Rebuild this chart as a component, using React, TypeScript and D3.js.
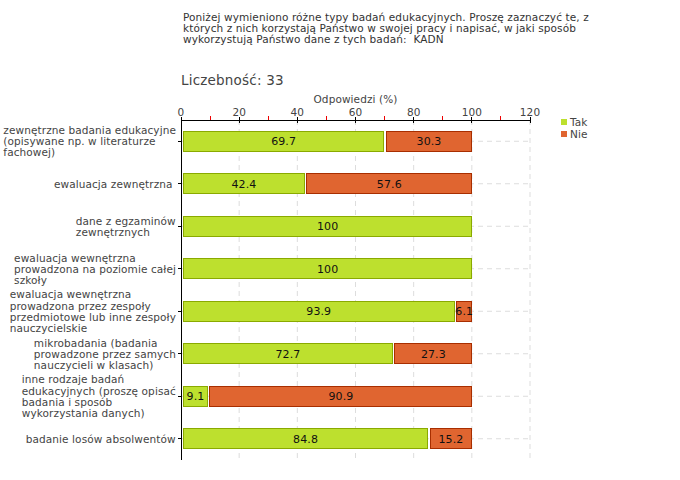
import React, { useEffect, useRef } from "react";
import * as d3 from "d3";

const titleLines = [
  "Poniżej wymieniono różne typy badań edukacyjnych. Proszę zaznaczyć te, z",
  "których z nich korzystają Państwo w swojej pracy i napisać, w jaki sposób",
  "wykorzystują Państwo dane z tych badań:  KADN",
];
const countLabel = "Liczebność: 33";
const axisTitle = "Odpowiedzi (%)";
const categories: string[][] = [
  ["zewnętrzne badania edukacyjne", "(opisywane np. w literaturze", "fachowej)"],
  ["ewaluacja zewnętrzna "],
  ["dane z egzaminów", "zewnętrznych"],
  ["ewaluacja wewnętrzna", "prowadzona na poziomie całej", "szkoły"],
  ["ewaluacja wewnętrzna", "prowadzona przez zespoły", "przedmiotowe lub inne zespoły", "nauczycielskie"],
  ["mikrobadania (badania", "prowadzone przez samych", "nauczycieli w klasach)"],
  ["inne rodzaje badań", "edukacyjnych (proszę opisać", "badania i sposób", "wykorzystania danych)"],
  ["badanie losów absolwentów"],
];
const tak = [69.7, 42.4, 100, 100, 93.9, 72.7, 9.1, 84.8];
const nie = [30.3, 57.6, 0, 0, 6.1, 27.3, 90.9, 15.2];
const seriesNames = ["Tak", "Nie"];
const majorTicks = [0, 20, 40, 60, 80, 100, 120];
const minorTicks = [10, 30, 50, 70, 90, 110];

const colors = [
  { fill: "#bde02e", stroke: "#8aaa00" },
  { fill: "#e06530", stroke: "#a82e00" },
];

const FONT = "DejaVu Sans, Verdana, sans-serif";
const FS = 10.5;
const LS = 0.1;

export default function App() {
  const ref = useRef<SVGSVGElement>(null);

  useEffect(() => {
    const svg = d3.select(ref.current);
    svg.selectAll("*").remove();
    const W = 680, H = 480;
    const left = 181, right = 530, top = 120, bottom = 460;
    const x = d3.scaleLinear().domain([0, 120]).range([left, right]);
    const y = d3.scaleBand<number>().domain(d3.range(categories.length)).range([top, bottom]);
    const barH = 20;
    const textColor = "#444";

    svg.append("rect").attr("width", W).attr("height", H).attr("fill", "#fff");

    // Title
    const t = svg.append("text").attr("font-family", FONT).attr("font-size", FS)
      .attr("letter-spacing", LS).attr("fill", "#333").style("white-space", "pre");
    titleLines.forEach((l, i) =>
      t.append("tspan").attr("x", 183).attr("y", 21 + i * 11).text(l)
    );
    svg.append("text").attr("x", 181).attr("y", 85).attr("font-family", FONT)
      .attr("font-size", 13.5).attr("letter-spacing", 0.2).attr("fill", "#444").text(countLabel);

    svg.append("text").attr("x", (left + right) / 2).attr("y", 103).attr("text-anchor", "middle")
      .attr("font-family", FONT).attr("font-size", FS).attr("letter-spacing", LS).attr("fill", textColor).text(axisTitle);

    // gridlines
    const g = svg.append("g");
    majorTicks.slice(1).forEach((v) => {
      g.append("line").attr("x1", x(v)).attr("x2", x(v)).attr("y1", top).attr("y2", bottom)
        .attr("stroke", "#ddd").attr("stroke-dasharray", "5,4");
    });
    categories.forEach((_, i) => {
      const cy = y(i)! + y.bandwidth() / 2;
      g.append("line").attr("x1", left).attr("x2", right).attr("y1", cy).attr("y2", cy)
        .attr("stroke", "#ddd").attr("stroke-dasharray", "5,4");
    });

    // bars
    categories.forEach((_, i) => {
      const cy = y(i)! + y.bandwidth() / 2;
      const vals = [tak[i], nie[i]];
      let start = 0;
      vals.forEach((v, s) => {
        if (v <= 0) return;
        const x0 = x(start) + 2.5;
        const x1 = x(start + v);
        svg.append("rect").attr("x", x0).attr("y", cy - barH / 2).attr("width", x1 - x0).attr("height", barH)
          .attr("fill", colors[s].fill).attr("stroke", colors[s].stroke).attr("stroke-width", 1)
          .attr("shape-rendering", "crispEdges");
        svg.append("text").attr("x", (x0 + x1) / 2).attr("y", cy + 4).attr("text-anchor", "middle")
          .attr("font-family", FONT).attr("font-size", 11).attr("letter-spacing", LS).attr("fill", "#111").text(String(v));
        start += v;
      });
    });

    // top axis
    const ax = svg.append("g").attr("shape-rendering", "crispEdges");
    ax.append("line").attr("x1", left).attr("x2", right).attr("y1", top).attr("y2", top).attr("stroke", "#000");
    majorTicks.forEach((v) => {
      ax.append("line").attr("x1", x(v)).attr("x2", x(v)).attr("y1", top - 3).attr("y2", top + 3).attr("stroke", "#000");
      svg.append("text").attr("x", x(v)).attr("y", 116).attr("text-anchor", "middle")
        .attr("font-family", FONT).attr("font-size", FS).attr("letter-spacing", LS).attr("fill", textColor).text(String(v));
    });
    minorTicks.forEach((v) => {
      ax.append("line").attr("x1", x(v)).attr("x2", x(v)).attr("y1", top - 4).attr("y2", top).attr("stroke", "#e00");
    });
    // left axis
    ax.append("line").attr("x1", left).attr("x2", left).attr("y1", top).attr("y2", bottom).attr("stroke", "#000");
    categories.forEach((lines, i) => {
      const cy = y(i)! + y.bandwidth() / 2;
      ax.append("line").attr("x1", left - 3).attr("x2", left).attr("y1", cy).attr("y2", cy).attr("stroke", "#000");
      const lh = 11.2;
      const txt = svg.append("text").attr("font-family", FONT).attr("font-size", FS)
        .attr("letter-spacing", LS).attr("fill", textColor).style("white-space", "pre");
      lines.forEach((l, k) => {
        txt.append("tspan").attr("x", 0).attr("y", cy + 4 + (k - (lines.length - 1) / 2) * lh).text(l);
      });
      const node = txt.node() as SVGTextElement;
      const w = node.getBBox().width;
      txt.attr("transform", `translate(${left - 5 - w},0)`);
    });

    // legend
    seriesNames.forEach((n, i) => {
      svg.append("rect").attr("x", 561).attr("y", 119 + i * 12).attr("width", 6).attr("height", 6)
        .attr("fill", colors[i].fill);
      svg.append("text").attr("x", 570).attr("y", 126 + i * 12).attr("font-family", FONT)
        .attr("font-size", FS).attr("letter-spacing", LS).attr("fill", textColor).text(n);
    });
  }, []);

  return (
    <svg ref={ref} width={680} height={480} style={{ position: "absolute", left: 0, top: 0 }} />
  );
}
